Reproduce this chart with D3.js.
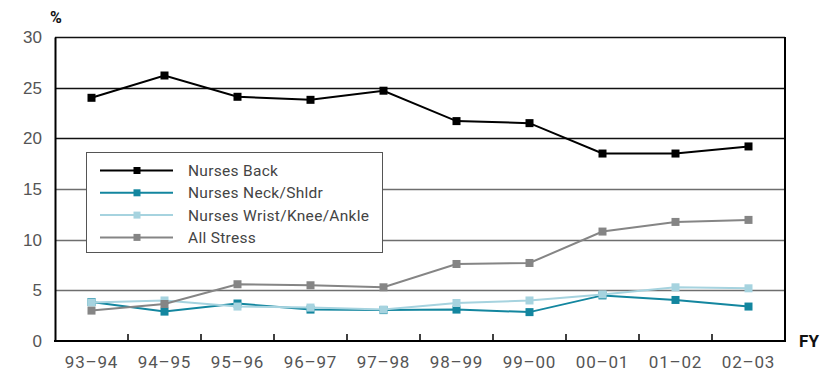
<!DOCTYPE html>
<html>
<head>
<meta charset="utf-8">
<script src="https://cdn.jsdelivr.net/npm/d3@7"></script>
<style>
  body { margin: 0; background: #fff; }
  svg { display: block; font-family: "Roboto", "Lato", sans-serif; }
</style>
</head>
<body>
<svg id="chart" width="836" height="371"></svg>
<script>
// Financial years on the x axis
const years = ["93–94", "94–95", "95–96", "96–97", "97–98", "98–99", "99–00", "00–01", "01–02", "02–03"];

// Claim shares (%) by injury type
const nursesBack   = [24.0, 26.2, 24.1, 23.8, 24.7, 21.7, 21.5, 18.5, 18.5, 19.2];
const nursesNeck   = [3.85, 2.9, 3.7, 3.1, 3.05, 3.1, 2.85, 4.5, 4.05, 3.4];
const nursesWrist  = [3.8, 4.0, 3.4, 3.3, 3.1, 3.75, 4.0, 4.6, 5.3, 5.2];
const allStress    = [3.0, 3.65, 5.6, 5.5, 5.3, 7.6, 7.7, 10.8, 11.75, 11.95];

const yTicks = [0, 5, 10, 15, 20, 25, 30];

const series = [
  { name: "Nurses Back", values: nursesBack, color: "#000000" },
  { name: "Nurses Neck/Shldr", values: nursesNeck, color: "#13869f" },
  { name: "Nurses Wrist/Knee/Ankle", values: nursesWrist, color: "#a6d3df" },
  { name: "All Stress", values: allStress, color: "#858585" }
];

const svg = d3.select("#chart");
const m = { left: 55, right: 785, top: 37, bottom: 341 };

const x = d3.scaleBand().domain(years).range([m.left, m.right]);
const y = d3.scaleLinear().domain([0, 30]).range([m.bottom, m.top]);

// Horizontal gridlines
svg.append("g")
  .selectAll("line")
  .data(yTicks.filter(d => d > 0))
  .join("line")
  .attr("x1", m.left).attr("x2", m.right)
  .attr("y1", d => Math.round(y(d)) + 0.5).attr("y2", d => Math.round(y(d)) + 0.5)
  .attr("stroke", d => d >= 20 ? "#111" : "#6e6e6e")
  .attr("stroke-width", 1.3);

// Right border of the plot area
svg.append("line")
  .attr("x1", m.right).attr("x2", m.right)
  .attr("y1", m.top).attr("y2", m.bottom)
  .attr("stroke", "#000").attr("stroke-width", 2);

// Y axis
const yAxis = svg.append("g")
  .attr("transform", `translate(${m.left},0)`)
  .call(d3.axisLeft(y).tickValues(yTicks).tickSize(0).tickPadding(13));
yAxis.select(".domain").attr("stroke", "#000").attr("stroke-width", 2);
yAxis.selectAll("text")
  .attr("fill", "#555").attr("font-size", 17);

// X axis with ticks between categories, pointing inward
const bounds = years.slice(1).map(d => x(d));
const xAxisG = svg.append("g").attr("transform", `translate(0,${m.bottom})`);
xAxisG.append("line")
  .attr("x1", m.left - 1).attr("x2", m.right + 1)
  .attr("stroke", "#000").attr("stroke-width", 2);
xAxisG.selectAll("line.tick")
  .data(bounds)
  .join("line")
  .attr("class", "tick")
  .attr("x1", d => d).attr("x2", d => d)
  .attr("y1", 0).attr("y2", -7)
  .attr("stroke", "#000").attr("stroke-width", 1.5);
xAxisG.selectAll("text")
  .data(years)
  .join("text")
  .attr("x", d => x(d) + x.bandwidth() / 2)
  .attr("y", 27)
  .attr("text-anchor", "middle")
  .attr("fill", "#555")
  .attr("font-size", 17)
  .attr("letter-spacing", 0.8)
  .text(d => d);

// Axis titles
svg.append("text")
  .attr("x", 56).attr("y", 23)
  .attr("text-anchor", "middle")
  .attr("font-size", 16).attr("font-weight", "bold").attr("fill", "#111")
  .text("%");
svg.append("text")
  .attr("x", 809).attr("y", 347)
  .attr("text-anchor", "middle")
  .attr("font-size", 17).attr("font-weight", "bold").attr("fill", "#111")
  .text("FY");

// Lines and square markers
const line = d3.line()
  .x((d, i) => x(years[i]) + x.bandwidth() / 2)
  .y(d => y(d));

const markerSize = 8;
series.forEach(s => {
  const g = svg.append("g");
  g.append("path")
    .datum(s.values)
    .attr("fill", "none")
    .attr("stroke", s.color)
    .attr("stroke-width", 2)
    .attr("d", line);
  g.selectAll("rect")
    .data(s.values)
    .join("rect")
    .attr("x", (d, i) => x(years[i]) + x.bandwidth() / 2 - markerSize / 2)
    .attr("y", d => y(d) - markerSize / 2)
    .attr("width", markerSize).attr("height", markerSize)
    .attr("fill", s.color);
});

// Legend
const legend = svg.append("g");
legend.append("rect")
  .attr("x", 86.5).attr("y", 152.5)
  .attr("width", 296).attr("height", 100)
  .attr("fill", "#fff").attr("stroke", "#555").attr("stroke-width", 1);
series.forEach((s, i) => {
  const ly = 170.5 + i * 22.3;
  legend.append("line")
    .attr("x1", 100).attr("x2", 173)
    .attr("y1", ly).attr("y2", ly)
    .attr("stroke", s.color).attr("stroke-width", 2);
  legend.append("rect")
    .attr("x", 137 - 3.5).attr("y", ly - 3.5)
    .attr("width", 7).attr("height", 7)
    .attr("fill", s.color);
  legend.append("text")
    .attr("x", 188).attr("y", ly + 5.5)
    .attr("font-size", 15.5).attr("fill", "#444")
    .attr("letter-spacing", 0.3)
    .text(s.name);
});
</script>
</body>
</html>
